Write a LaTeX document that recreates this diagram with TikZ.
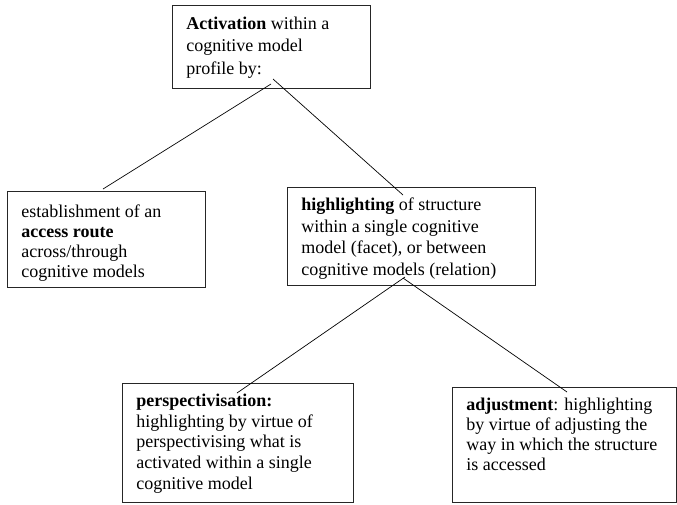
\documentclass[tikz,border=0pt]{standalone}
\usepackage{fontspec}
\setmainfont{Liberation Serif}
\tikzset{
  box/.style={draw=black!85, line width=0.9pt, inner xsep=14pt, inner ysep=0pt,
    anchor=north west, align=left},
  link/.style={draw=black, line width=0.7pt}
}
\newcommand\boxtext[5]{\parbox[c][#1pt][t]{#2pt}{\fontsize{18}{#3}\selectfont\raggedright\rule{0pt}{#4pt}#5}}
\begin{document}
\begin{tikzpicture}[x=1pt,y=-1pt]
\useasboundingbox (0,0) rectangle (677,504);
\node[box] (top) at (172,5)
  {\boxtext{83}{170}{22.3}{24}{\textbf{Activation} within a\\cognitive model\\profile by:}};
\node[box] (route) at (7,191)
  {\boxtext{96}{170}{20}{26}{establishment of an\\\textbf{access route}\\across/through\\cognitive models}};
\node[box] (high) at (287,187)
  {\boxtext{98}{220}{21.7}{23}{\textbf{highlighting} of structure\\within a single cognitive\\model (facet), or between\\cognitive models (relation)}};
\node[box] (persp) at (122,383)
  {\boxtext{119}{203}{20.7}{23}{\textbf{perspectivisation:}\\highlighting by virtue of\\perspectivising what is\\activated within a single\\cognitive model}};
\node[box] (adj) at (452,387)
  {\boxtext{115}{196}{20}{23}{\textbf{adjustment}: highlighting\\by virtue of adjusting the\\way in which the structure\\is accessed}};
\coordinate (t1) at (271,84);
\coordinate (t2) at (273,79);
\coordinate (r1) at (103,189);
\coordinate (h1) at (403,195);
\coordinate (h2) at (405,277);
\coordinate (h3) at (403,278);
\coordinate (p1) at (237,393);
\coordinate (a1) at (567,392);
\draw[link] (t1) -- (r1);
\draw[link] (t2) -- (h1);
\draw[link] (h2) -- (p1);
\draw[link] (h3) -- (a1);
\end{tikzpicture}
\end{document}
